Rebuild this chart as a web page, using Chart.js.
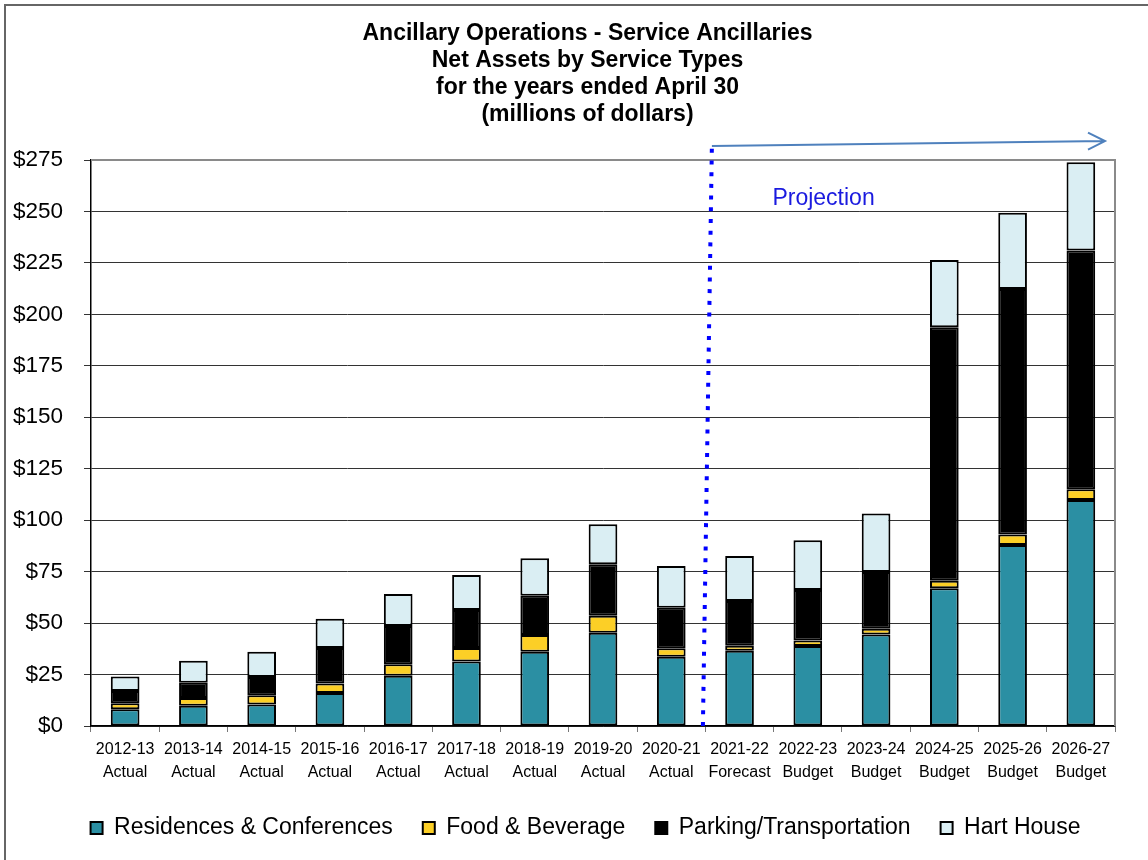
<!DOCTYPE html>
<html>
<head>
<meta charset="utf-8">
<script src="https://cdn.jsdelivr.net/npm/chart.js@4.4.1/dist/chart.umd.min.js"></script>
<style>
  html, body { margin: 0; padding: 0; background: #fff; }
  #wrap { width: 1148px; height: 860px; position: relative; }
</style>
</head>
<body>
<div id="wrap"><canvas id="grafico"></canvas></div>
<script>
// Dados (milhões de dólares)
const anos = ['2012-13', '2013-14', '2014-15', '2015-16', '2016-17', '2017-18', '2018-19', '2019-20',
  '2020-21', '2021-22', '2022-23', '2023-24', '2024-25', '2025-26', '2026-27'];
const tipos = ['Actual', 'Actual', 'Actual', 'Actual', 'Actual', 'Actual', 'Actual', 'Actual',
  'Actual', 'Forecast', 'Budget', 'Budget', 'Budget', 'Budget', 'Budget'];

const residencias = [8.1, 9.9, 10.5, 16.0, 24.4, 31.4, 36.1, 45.3, 33.7, 36.6, 38.9, 44.4, 66.9, 87.9, 109.8];
const alimentacao = [2.9, 3.7, 4.4, 4.6, 5.6, 6.5, 8.1, 8.3, 4.1, 2.4, 2.6, 2.9, 3.7, 5.2, 5.2];
const estacionamento = [6.0, 7.4, 8.9, 17.3, 18.6, 18.5, 19.1, 25.0, 19.7, 21.7, 24.6, 27.5, 123.1, 119.2, 116.0];
const hartHouse = [7.1, 10.7, 12.3, 14.2, 15.5, 17.0, 18.2, 19.4, 20.2, 21.9, 24.1, 28.4, 32.7, 37.1, 42.9];

const yTicksMax = 275;
const yStep = 25;
const indiceProjecao = 9; // primeira coluna da projeção (2021-22)

const labels = anos.map((a, i) => [a, tipos[i]]);
const fonte = 'Arial, "Liberation Sans", sans-serif';

// Plugin: desloca título/legenda e desenha moldura, linha pontilhada, seta e texto
const anotacoes = {
  id: 'anotacoes',
  afterLayout(chart) {
    // o título e a legenda do original ficam um pouco à direita
    if (chart.titleBlock) { chart.titleBlock.left += 26; chart.titleBlock.right += 26; }
    if (chart.legend) { chart.legend.left += 24; chart.legend.right += 24; }
  },
  afterDraw(chart) {
    const { ctx, chartArea, scales } = chart;
    const x = scales.x;
    ctx.save();

    // moldura externa (topo e esquerda)
    ctx.strokeStyle = '#666';
    ctx.lineWidth = 2;
    ctx.beginPath();
    ctx.moveTo(5, 860);
    ctx.lineTo(5, 5);
    ctx.lineTo(1148, 5);
    ctx.stroke();

    // bordas cinzas do topo e da direita da área do gráfico
    ctx.strokeStyle = '#8a8a8a';
    ctx.lineWidth = 2;
    ctx.beginPath();
    ctx.moveTo(chartArea.left, chartArea.top);
    ctx.lineTo(chartArea.right, chartArea.top);
    ctx.lineTo(chartArea.right, chartArea.bottom);
    ctx.stroke();

    // linha pontilhada entre 2020-21 e 2021-22
    const xm = (x.getPixelForValue(indiceProjecao - 1) + x.getPixelForValue(indiceProjecao)) / 2;
    const topoLinha = chartArea.top - 15;
    ctx.strokeStyle = '#0000FF';
    ctx.lineWidth = 4;
    ctx.setLineDash([4, 7.7]);
    ctx.beginPath();
    ctx.moveTo(xm - 2.5, chartArea.bottom);
    ctx.lineTo(xm + 6.5, topoLinha);
    ctx.stroke();
    ctx.setLineDash([]);

    // seta
    const xFim = chartArea.right - 10;
    const yFim = chartArea.top - 19;
    ctx.strokeStyle = '#4F81BD';
    ctx.lineWidth = 2;
    ctx.beginPath();
    ctx.moveTo(xm + 6.5, topoLinha + 1);
    ctx.lineTo(xFim, yFim);
    ctx.moveTo(xFim - 17, yFim - 8.5);
    ctx.lineTo(xFim, yFim);
    ctx.lineTo(xFim - 17, yFim + 8.5);
    ctx.stroke();

    // texto
    ctx.fillStyle = '#1a1adf';
    ctx.font = '23px ' + fonte;
    ctx.textAlign = 'left';
    ctx.textBaseline = 'middle';
    ctx.fillText('Projection', xm + 67, chartArea.top + 39);

    ctx.restore();
  }
};

const ctx = document.getElementById('grafico').getContext('2d');

const conjunto = (label, data, cor) => ({
  label: label,
  data: data,
  backgroundColor: cor,
  borderColor: '#000',
  borderWidth: 2,
  borderSkipped: false,
  barPercentage: 0.42,
  categoryPercentage: 1.0
});

const chart = new Chart(ctx, {
  type: 'bar',
  data: {
    labels: labels,
    datasets: [
      conjunto('Residences & Conferences', residencias, '#2B8FA3'),
      conjunto('Food & Beverage', alimentacao, '#FCCF26'),
      conjunto('Parking/Transportation', estacionamento, '#000000'),
      conjunto('Hart House', hartHouse, '#DAEEF3')
    ]
  },
  options: {
    responsive: true,
    maintainAspectRatio: false,
    animation: false,
    layout: { padding: { left: 8, right: 33, top: 5, bottom: 10.5 } },
    plugins: {
      title: {
        display: true,
        text: ['Ancillary Operations - Service Ancillaries', 'Net Assets by Service Types',
          'for the years ended April 30', '(millions of dollars)'],
        color: '#000',
        font: { family: fonte, size: 23, weight: 'bold', lineHeight: 1.17 },
        padding: { top: 15, bottom: 32.4 }
      },
      legend: {
        position: 'bottom',
        labels: {
          color: '#000',
          font: { family: fonte, size: 23 },
          boxWidth: 12,
          boxHeight: 12,
          padding: 30
        }
      },
      tooltip: { enabled: false }
    },
    scales: {
      x: {
        stacked: true,
        afterFit(scale) { scale.height = 60.5; },
        grid: { display: true, drawOnChartArea: false, drawTicks: true, tickLength: 6, offset: true, color: '#777' },
        border: { color: '#000', width: 1.5 },
        ticks: {
          color: '#000',
          font: { family: fonte, size: 16, lineHeight: 1.44 },
          maxRotation: 0,
          autoSkip: false,
          padding: 6
        }
      },
      y: {
        stacked: true,
        min: 0,
        max: yTicksMax,
        afterFit(scale) { scale.width = 83; },
        grid: { color: '#333', lineWidth: 1, tickLength: 7 },
        border: { color: '#000', width: 1.5 },
        ticks: {
          stepSize: yStep,
          color: '#000',
          font: { family: fonte, size: 22.5 },
          padding: 21,
          callback: v => '$' + v
        }
      }
    }
  },
  plugins: [anotacoes]
});
</script>
</body>
</html>
